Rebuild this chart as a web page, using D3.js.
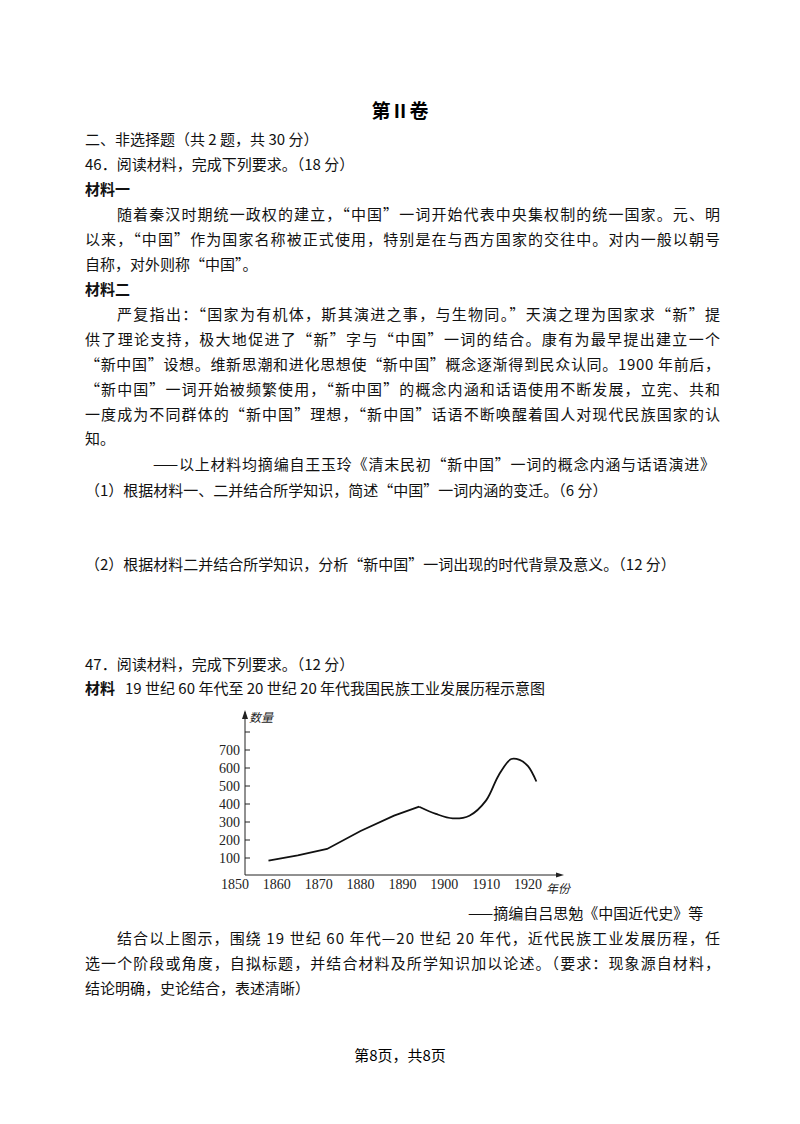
<!DOCTYPE html>
<html>
<head>
<meta charset="UTF-8">
<script src="https://d3js.org/d3.v7.min.js"></script>
<style>body{margin:0;background:#fff}</style>
</head>
<body>
<svg id="canvas"></svg>
<script>
// chart data
years = [1858, 1865, 1872, 1880, 1888, 1894, 1898, 1902, 1906, 1910, 1913, 1916, 1918, 1920, 1922];
counts = [85, 115, 150, 250, 335, 385, 345, 320, 335, 420, 560, 650, 645, 610, 525];
xTicks = [1850, 1860, 1870, 1880, 1890, 1900, 1910, 1920];
yTicks = [100, 200, 300, 400, 500, 600, 700];
cornerYear = 1894; // straight segments before this year, smooth curve after

// page text lines: [x, y, text, bold, justifyWidth]
lines = [
  [85, 145, "二、非选择题（共 2 题，共 30 分）"],
  [85, 170, "46．阅读材料，完成下列要求。（18 分）"],
  [85, 195, "材料一", true],
  [117, 220, "随着秦汉时期统一政权的建立，“中国”一词开始代表中央集权制的统一国家。元、明", false, 603],
  [85, 245, "以来，“中国”作为国家名称被正式使用，特别是在与西方国家的交往中。对内一般以朝号", false, 635],
  [85, 270, "自称，对外则称“中国”。"],
  [85, 295, "材料二", true],
  [117, 320, "严复指出：“国家为有机体，斯其演进之事，与生物同。”天演之理为国家求“新”提", false, 603],
  [85, 345, "供了理论支持，极大地促进了“新”字与“中国”一词的结合。康有为最早提出建立一个", false, 635],
  [85, 370, "“新中国”设想。维新思潮和进化思想使“新中国”概念逐渐得到民众认同。1900 年前后，", false, 635],
  [85, 395, "“新中国”一词开始被频繁使用，“新中国”的概念内涵和话语使用不断发展，立宪、共和", false, 635],
  [85, 420, "一度成为不同群体的“新中国”理想，“新中国”话语不断唤醒着国人对现代民族国家的认", false, 635],
  [85, 444, "知。"],
  [153, 470, "——以上材料均摘编自王玉玲《清末民初“新中国”一词的概念内涵与话语演进》", false, 562],
  [85, 496, "（1）根据材料一、二并结合所学知识，简述“中国”一词内涵的变迁。（6 分）"],
  [85, 570, "（2）根据材料二并结合所学知识，分析“新中国”一词出现的时代背景及意义。（12 分）"],
  [85, 670, "47．阅读材料，完成下列要求。（12 分）"],
  [85, 694, "材料", true],
  [125, 694, "19 世纪 60 年代至 20 世纪 20 年代我国民族工业发展历程示意图"],
  [468, 919, "——摘编自吕思勉《中国近代史》等"],
  [117, 944, "结合以上图示，围绕 19 世纪 60 年代—20 世纪 20 年代，近代民族工业发展历程，任", false, 603],
  [85, 969, "选一个阶段或角度，自拟标题，并结合材料及所学知识加以论述。（要求：现象源自材料，", false, 635],
  [85, 994, "结论明确，史论结合，表述清晰）"]
];

width = 800; height = 1124;
svg = d3.select("#canvas").attr("width", width).attr("height", height)
  .style("font-family", "'Noto Sans CJK SC', sans-serif").style("font-size", "15px");

svg.append("text").attr("x", 400).attr("y", 118).attr("text-anchor", "middle")
  .style("font-size", "19px").style("font-weight", "bold").text("第Ⅱ卷");

lines.forEach(l => {
  t = svg.append("text").attr("x", l[0]).attr("y", l[1]).text(l[2]).attr("fill", "#111");
  if (l[3]) t.style("font-weight", "bold");
  if (l[4]) t.attr("textLength", l[4]).attr("lengthAdjust", "spacing");
});

svg.append("text").attr("x", 400).attr("y", 1061).attr("text-anchor", "middle").text("第8页，共8页");

// chart
x = d3.scaleLinear().domain([1850, 1920]).range([235, 528]);
y = d3.scaleLinear().domain([100, 700]).range([858, 750]);
ax = 245, base = 875;
g = svg.append("g").style("font-family", "'Liberation Serif', serif").style("font-size", "14px").attr("fill", "#222");

g.append("line").attr("x1", ax).attr("x2", ax).attr("y1", base).attr("y2", 712).attr("stroke", "#222");
g.append("path").attr("d", `M${ax - 3},719L${ax},710L${ax + 3},719Z`).attr("fill", "#222");
g.append("line").attr("x1", ax).attr("x2", 560).attr("y1", base).attr("y2", base).attr("stroke", "#222");
g.append("path").attr("d", `M556,${base - 2.5}L564,${base}L556,${base + 2.5}Z`).attr("fill", "#222");

g.selectAll(".yt").data(yTicks.concat([800])).enter().append("line")
  .attr("x1", ax).attr("x2", ax + 5).attr("y1", d => y(d)).attr("y2", d => y(d)).attr("stroke", "#222");
g.selectAll(".yl").data(yTicks).enter().append("text")
  .attr("x", ax - 5).attr("y", d => y(d) + 5).attr("text-anchor", "end").text(d => d);
g.selectAll(".xl").data(xTicks).enter().append("text")
  .attr("x", d => x(d)).attr("y", base + 14).attr("text-anchor", "middle").text(d => d);

g.append("text").attr("x", 249).attr("y", 722).style("font-family", "'Noto Sans CJK SC'").style("font-size", "12px").style("font-style", "italic").text("数量");
g.append("text").attr("x", 546).attr("y", 893).style("font-family", "'Noto Sans CJK SC'").style("font-size", "12px").style("font-style", "italic").text("年份");

pts = years.map((yr, i) => [yr, counts[i]]);
k = years.indexOf(cornerYear);
straight = d3.line().x(d => x(d[0])).y(d => y(d[1]));
smooth = d3.line().x(d => x(d[0])).y(d => y(d[1])).curve(d3.curveCatmullRom.alpha(0.5));
g.append("path").attr("d", straight(pts.slice(0, k + 1))).attr("fill", "none").attr("stroke", "#111").attr("stroke-width", 1.8);
g.append("path").attr("d", smooth(pts.slice(k))).attr("fill", "none").attr("stroke", "#111").attr("stroke-width", 1.8);
</script>
</body>
</html>
